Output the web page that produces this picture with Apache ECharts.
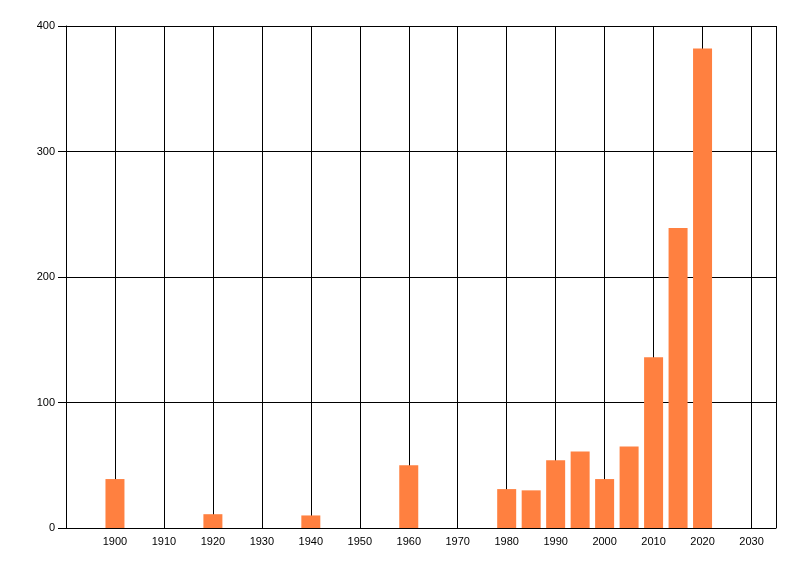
<!DOCTYPE html>
<html>
<head>
<meta charset="utf-8">
<script src="https://cdn.jsdelivr.net/npm/echarts@6/dist/echarts.min.js"></script>
<style>
html,body{margin:0;padding:0;background:#fff;}
#chart{width:800px;height:576px;}
</style>
</head>
<body>
<div id="chart"></div>
<script>
const years = [1900, 1920, 1940, 1960, 1980, 1985, 1990, 1995, 2000, 2005, 2010, 2015, 2020];
const counts = [39, 11, 10, 50, 31, 30, 54, 61, 39, 65, 136, 239, 382];
const xTicks = [1900, 1910, 1920, 1930, 1940, 1950, 1960, 1970, 1980, 1990, 2000, 2010, 2020, 2030];
const yTicks = [0, 100, 200, 300, 400];

const chart = echarts.init(document.getElementById('chart'), null, {renderer: 'canvas'});
const font = 'Liberation Sans, Arial, sans-serif';
chart.setOption({
  animation: false,
  backgroundColor: '#ffffff',
  grid: {left: 66, right: 24, top: 26, bottom: 48, containLabel: false},
  xAxis: {
    type: 'value',
    min: 1890,
    max: 2035,
    interval: 10,
    axisLine: {show: true, lineStyle: {color: '#000', width: 1}},
    axisTick: {show: false},
    splitLine: {show: true, lineStyle: {color: '#000', width: 1}},
    axisLabel: {
      color: '#000', fontSize: 11, fontFamily: font, margin: 8,
      showMaxLabel: false,
      formatter: v => xTicks.indexOf(v) >= 0 ? String(v) : ''
    }
  },
  yAxis: {
    type: 'value',
    min: 0,
    max: 400,
    interval: 100,
    axisLine: {show: true, lineStyle: {color: '#000', width: 1}},
    axisTick: {show: true, length: 8, lineStyle: {color: '#000', width: 1}},
    splitLine: {show: true, lineStyle: {color: '#000', width: 1}},
    axisLabel: {
      color: '#000', fontSize: 11, fontFamily: font, margin: 11,
      formatter: v => yTicks.indexOf(v) >= 0 ? String(v) : ''
    }
  },
  series: [{
    type: 'bar',
    data: years.map((y, i) => [y, counts[i]]),
    barWidth: 19,
    itemStyle: {color: '#FF8040'},
    z: 3
  }]
});
</script>
</body>
</html>
